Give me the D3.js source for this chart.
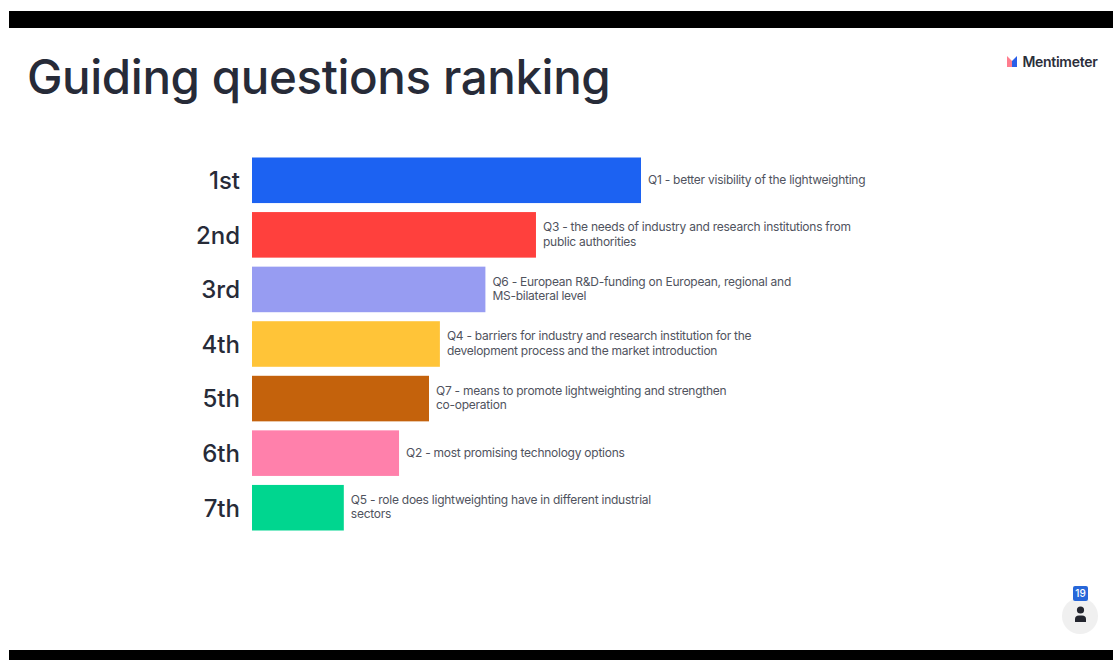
<!DOCTYPE html>
<html>
<head>
<meta charset="utf-8">
<script src="https://cdn.jsdelivr.net/npm/d3@7/dist/d3.min.js"></script>
<style>
  html, body { margin: 0; padding: 0; background: #fff; overflow: hidden; }
  svg { display: block; }
</style>
</head>
<body>
<svg id="chart" width="1113" height="660"></svg>
<script>
// Ranking results, best score first
const ranks = ["1st", "2nd", "3rd", "4th", "5th", "6th", "7th"];
const scores = [100, 73, 60, 48.3, 45.5, 37.8, 23.6];
const barColors = ["#1c62f2", "#ff403d", "#979cf2", "#ffc438", "#c4620c", "#ff80ab", "#00d68f"];
const questionLines = [
  ["Q1 - better visibility of the lightweighting"],
  ["Q3 - the needs of industry and research institutions from", "public authorities"],
  ["Q6 - European R&D-funding on European, regional and", "MS-bilateral level"],
  ["Q4 - barriers for industry and research institution for the", "development process and the market introduction"],
  ["Q7 - means to promote lightweighting and strengthen", "co-operation"],
  ["Q2 - most promising technology options"],
  ["Q5 - role does lightweighting have in different industrial", "sectors"]
];

const svg = d3.select("#chart");
const font = "Inter, 'Noto Sans', sans-serif";

// Letterbox strips
svg.append("rect").attr("x", 9).attr("y", 11).attr("width", 1104).attr("height", 17).attr("fill", "#000");
svg.append("rect").attr("x", 9).attr("y", 650).attr("width", 1104).attr("height", 10).attr("fill", "#000");

// Slide title
svg.append("text")
  .attr("x", 27).attr("y", 94)
  .attr("font-family", font).attr("font-size", 47.5).attr("font-weight", 500)
  .attr("letter-spacing", -0.4)
  .attr("fill", "#272b38")
  .text("Guiding questions ranking");

// Scales
const x = d3.scaleLinear().domain([0, 100]).range([252, 641]);
const y = d3.scaleBand().domain(ranks).range([157.5, 530.5]).paddingInner(0.165).paddingOuter(0);

// Bars
svg.append("g").selectAll("rect")
  .data(ranks)
  .join("rect")
  .attr("x", x(0))
  .attr("y", d => y(d))
  .attr("width", (d, i) => x(scores[i]) - x(0))
  .attr("height", y.bandwidth())
  .attr("fill", (d, i) => barColors[i]);

// Rank labels
svg.append("g").selectAll("text")
  .data(ranks)
  .join("text")
  .attr("x", 240)
  .attr("y", d => y(d) + y.bandwidth() / 2 + 0.5)
  .attr("dy", "0.35em")
  .attr("text-anchor", "end")
  .attr("font-family", font).attr("font-size", 24).attr("font-weight", 500)
  .attr("fill", "#272b38")
  .text(d => d);

// Question labels beside each bar, one or two lines
const labels = svg.append("g").selectAll("text")
  .data(ranks)
  .join("text")
  .attr("font-family", font).attr("font-size", 12).attr("letter-spacing", -0.25)
  .attr("fill", "#50535e")
  .attr("y", d => y(d) + y.bandwidth() / 2);
labels.each(function (d, i) {
  const lines = questionLines[i];
  const tx = x(scores[i]) + 7;
  d3.select(this).selectAll("tspan")
    .data(lines)
    .join("tspan")
    .attr("x", tx)
    .attr("dy", (l, j) => j === 0 ? (lines.length === 1 ? "0.35em" : "-0.32em") : "14.5")
    .text(l => l);
});

// Brand mark and name, top right
const brand = svg.append("g").attr("transform", "translate(1007,56)");
brand.append("path").attr("d", "M0,0 L5,5 L5,11 L0,11 Z").attr("fill", "#ff7d8e");
brand.append("path").attr("d", "M10,0 L5,5 L5,11 L10,11 Z").attr("fill", "#2a5fe8");
svg.append("text")
  .attr("x", 1022.5).attr("y", 66.5)
  .attr("font-family", font).attr("font-size", 14).attr("font-weight", 600)
  .attr("letter-spacing", -0.3)
  .attr("fill", "#2b2e3a")
  .text("Mentimeter");

// Participant count badge, bottom right
const badge = svg.append("g");
badge.append("circle").attr("cx", 1080).attr("cy", 616).attr("r", 18).attr("fill", "#f0f0f0");
badge.append("rect").attr("x", 1073).attr("y", 586).attr("width", 15).attr("height", 15).attr("rx", 2).attr("fill", "#2767d9");
badge.append("text")
  .attr("x", 1080.5).attr("y", 597)
  .attr("text-anchor", "middle")
  .attr("font-family", font).attr("font-size", 10).attr("font-weight", 500)
  .attr("fill", "#fff")
  .text("19");
badge.append("circle").attr("cx", 1080.5).attr("cy", 610).attr("r", 3.6).attr("fill", "#23252e");
badge.append("path").attr("d", "M1075,622 L1075,619 Q1075,615.5 1079,615.5 L1082,615.5 Q1086,615.5 1086,619 L1086,622 Z").attr("fill", "#23252e");
</script>
</body>
</html>
